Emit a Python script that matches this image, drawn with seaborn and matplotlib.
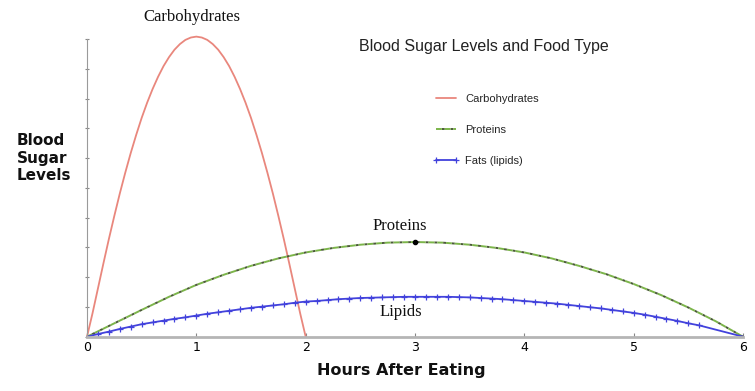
import seaborn as sns
import pandas as pd
import numpy as np
import matplotlib.pyplot as plt

# values (hours after eating -> level)
carbHours = [0.0, 0.05, 0.1, 0.15, 0.2, 0.25, 0.3, 0.35, 0.4, 0.45, 0.5,
             0.55, 0.6, 0.65, 0.7, 0.75, 0.8, 0.85, 0.9, 0.95, 1.0,
             1.05, 1.1, 1.15, 1.2, 1.25, 1.3, 1.35, 1.4, 1.45, 1.5,
             1.55, 1.6, 1.65, 1.7, 1.75, 1.8, 1.85, 1.9, 1.95, 2.0]
carbLevels = [0.0, 0.78, 1.62, 2.46, 3.28, 4.06, 4.81, 5.51, 6.17, 6.78, 7.35,
              7.86, 8.32, 8.73, 9.09, 9.39, 9.64, 9.83, 9.97, 10.05, 10.08,
              10.05, 9.97, 9.83, 9.64, 9.39, 9.09, 8.73, 8.32, 7.86, 7.35,
              6.78, 6.17, 5.51, 4.81, 4.06, 3.28, 2.46, 1.62, 0.78, 0.0]

proteinHours = [0.0, 0.25, 0.5, 0.75, 1.0, 1.25, 1.5, 1.75, 2.0, 2.25, 2.5, 2.75, 3.0,
                3.25, 3.5, 3.75, 4.0, 4.25, 4.5, 4.75, 5.0, 5.25, 5.5, 5.75, 6.0]
proteinLevels = [0.0, 0.45, 0.9, 1.34, 1.74, 2.08, 2.38, 2.63, 2.83, 2.98, 3.09, 3.16, 3.18,
                 3.16, 3.09, 2.98, 2.83, 2.63, 2.38, 2.1, 1.77, 1.4, 0.98, 0.52, 0.0]

lipidHours = [0.0, 0.1, 0.2, 0.3, 0.4, 0.5, 0.6, 0.7, 0.8, 0.9, 1.0,
              1.1, 1.2, 1.3, 1.4, 1.5, 1.6, 1.7, 1.8, 1.9, 2.0,
              2.1, 2.2, 2.3, 2.4, 2.5, 2.6, 2.7, 2.8, 2.9, 3.0,
              3.1, 3.2, 3.3, 3.4, 3.5, 3.6, 3.7, 3.8, 3.9, 4.0,
              4.1, 4.2, 4.3, 4.4, 4.5, 4.6, 4.7, 4.8, 4.9, 5.0,
              5.1, 5.2, 5.3, 5.4, 5.5, 5.6, 6.0]
lipidLevels = [0.0, 0.09, 0.17, 0.26, 0.34, 0.42, 0.48, 0.54, 0.6, 0.65, 0.71,
               0.77, 0.82, 0.87, 0.92, 0.97, 1.01, 1.05, 1.09, 1.14, 1.18,
               1.2, 1.23, 1.26, 1.28, 1.3, 1.31, 1.32, 1.33, 1.34, 1.34,
               1.34, 1.34, 1.34, 1.33, 1.32, 1.3, 1.28, 1.26, 1.23, 1.2,
               1.17, 1.14, 1.11, 1.07, 1.03, 0.99, 0.95, 0.9, 0.85, 0.8,
               0.74, 0.67, 0.6, 0.53, 0.45, 0.38, 0.0]

xTicks = [0, 1, 2, 3, 4, 5, 6]

sns.set_style("white")
plt.rcParams['font.family'] = ['DejaVu Sans']

W, H = 755, 391
fig = plt.figure(figsize=(W / 100, H / 100), dpi=100)
yTop = 10.2
ax = fig.add_axes([87 / W, 1 - 336.7 / H, (743 - 87) / W, (yTop * 29.77) / H])

carbDF = pd.DataFrame({'Hours': carbHours, 'Level': carbLevels})
proteinDF = pd.DataFrame({'Hours': proteinHours, 'Level': proteinLevels})
lipidDF = pd.DataFrame({'Hours': lipidHours, 'Level': lipidLevels})

carbColor = '#e9877d'
proteinColor = '#7cb54a'
lipidColor = '#4242dc'

sns.lineplot(data=carbDF, x='Hours', y='Level', ax=ax, color=carbColor, linewidth=1.3,
             label='Carbohydrates', clip_on=False)
sns.lineplot(data=proteinDF, x='Hours', y='Level', ax=ax, color=proteinColor, linewidth=1.4,
             linestyle=(0, (3, 1.5)), gapcolor='#4b5a38', label='Proteins', clip_on=False)
sns.lineplot(data=lipidDF, x='Hours', y='Level', ax=ax, color=lipidColor, linewidth=1.3,
             marker='+', markersize=5, markeredgewidth=0.9,
             markeredgecolor=lipidColor, markerfacecolor=lipidColor,
             label='Fats (lipids)', clip_on=False)
# the lipid curve has no markers at its two ends
ax.lines[-1].set_markevery(list(range(1, len(lipidHours) - 1)))

peakIdx = int(np.argmax(proteinLevels))
ax.scatter([proteinHours[peakIdx]], [proteinLevels[peakIdx]], s=9, color='black', zorder=5)

ax.set_xlim(0, 6)
ax.set_ylim(0, yTop)
ax.set_xticks(xTicks)
ax.set_xticklabels([str(t) for t in xTicks], fontsize=9)
ax.set_yticks(range(0, 11))
ax.set_yticklabels([])
ax.set_xlabel('')
ax.set_ylabel('')
ax.tick_params(axis='x', bottom=True, direction='in', length=3, color='#888888', pad=3,
               labelcolor='black')
ax.tick_params(axis='y', left=True, direction='inout', length=3, color='#888888', width=0.8)
for side in ['top', 'right']:
    ax.spines[side].set_visible(False)
ax.spines['left'].set_color('#9a9a9a')
ax.spines['left'].set_linewidth(0.8)
ax.spines['left'].set_bounds(0, 10)
ax.spines['bottom'].set_color('#b5b5b5')
ax.spines['bottom'].set_linewidth(2)

leg = ax.legend(loc='upper left', bbox_to_anchor=(433 / W, 1 - 93.5 / H),
                bbox_transform=fig.transFigure, frameon=False,
                prop={'family': 'Liberation Sans', 'size': 8},
                handlelength=2.4, handletextpad=0.5, labelspacing=1.9,
                borderpad=0, borderaxespad=0, numpoints=2)
for h in leg.get_lines():
    h.set_markevery(None)

fig.text(484 / W, 1 - 47 / H, 'Blood Sugar Levels and Food Type', ha='center', va='center',
         fontsize=11.5, family='Liberation Sans', color='#222222')

fig.text(192 / W, 1 - 21 / H, 'Carbohydrates', ha='center', va='baseline',
         fontsize=12, family='Liberation Serif', color='#111111')
fig.text(400 / W, 1 - 230 / H, 'Proteins', ha='center', va='baseline',
         fontsize=12, family='Liberation Serif', color='#111111')
fig.text(401 / W, 1 - 316 / H, 'Lipids', ha='center', va='baseline',
         fontsize=12, family='Liberation Serif', color='#111111')

fig.text(401 / W, 1 - 371 / H, 'Hours After Eating', ha='center', va='center',
         fontsize=11.5, fontweight='bold', color='#111111')
fig.text(17 / W, 1 - 158 / H, 'Blood\nSugar\nLevels', ha='left', va='center',
         fontsize=11, fontweight='bold', color='#111111', linespacing=1.2)

fig.savefig('out.png', dpi=100)
